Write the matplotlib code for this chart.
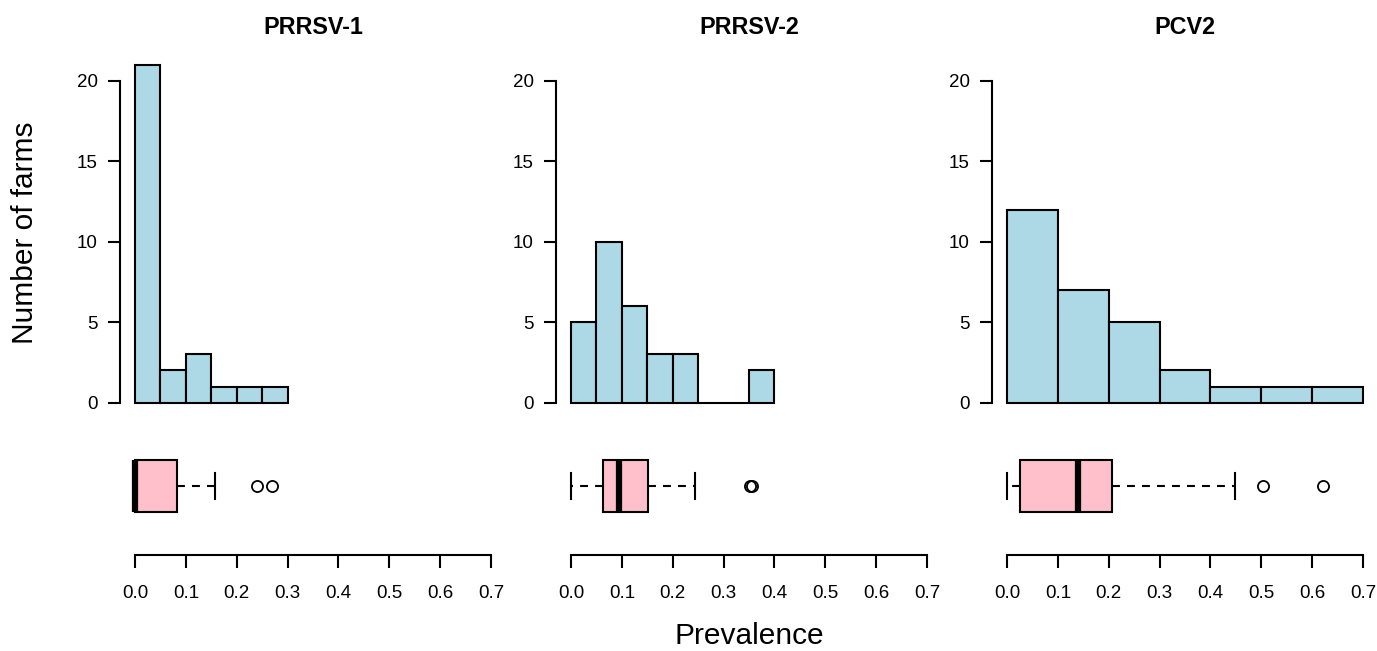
import numpy as np
import matplotlib
matplotlib.use('Agg')
import matplotlib.pyplot as plt

plt.rcParams['font.family'] = ['Liberation Sans', 'DejaVu Sans']

# Histogram counts
titles = ['PRRSV-1', 'PRRSV-2', 'PCV2']
bin_widths = [0.05, 0.05, 0.1]
prrsv1_counts = [21, 2, 3, 1, 1, 1]
prrsv2_counts = [5, 10, 6, 3, 3, 0, 0, 2]
pcv2_counts = [12, 7, 5, 2, 1, 1, 1]
all_counts = [prrsv1_counts, prrsv2_counts, pcv2_counts]

# Boxplot summaries (prevalence)
box_q1 = [0.0, 0.062, 0.026]
box_med = [0.0, 0.094, 0.139]
box_q3 = [0.083, 0.151, 0.207]
whisk_lo = [0.0, 0.0, 0.0]
whisk_hi = [0.158, 0.244, 0.448]
outliers = [[0.239, 0.269], [0.351, 0.355], [0.503, 0.622]]

x_ticks = [0.0, 0.1, 0.2, 0.3, 0.4, 0.5, 0.6, 0.7]
y_ticks = [0, 5, 10, 15, 20]

W, H = 1377, 651
fig = plt.figure(figsize=(W / 100, H / 100), dpi=100)


def px_axes(left, top, right, bottom):
    return fig.add_axes([left / W, 1 - bottom / H, (right - left) / W, (bottom - top) / H])


scale = 508.6  # pixels per prevalence unit
xlim = (-15 / scale, 371 / scale)

for i in range(3):
    z = 135 + 436 * i

    # histogram
    ax = px_axes(z - 15, 51.1, z + 371, 416.2)
    counts = all_counts[i]
    edges = np.arange(len(counts) + 1) * bin_widths[i]
    ax.bar(edges[:-1], counts, width=bin_widths[i], align='edge',
           color='#ADD8E6', edgecolor='black', linewidth=1.5)
    ax.set_xlim(xlim)
    ax.set_ylim(-0.84, 21.84)
    for s in ['top', 'right', 'bottom']:
        ax.spines[s].set_visible(False)
    ax.spines['left'].set_bounds(0, 20)
    ax.spines['left'].set_linewidth(1.5)
    ax.set_xticks([])
    ax.set_yticks(y_ticks)
    ax.tick_params(axis='y', length=8.6, width=1.5, pad=7.5, labelsize=13.5)

    # boxplot + shared prevalence axis
    bx = px_axes(z - 15, 430, z + 371, 555)
    stats = [{'q1': box_q1[i], 'med': box_med[i], 'q3': box_q3[i],
              'whislo': whisk_lo[i], 'whishi': whisk_hi[i], 'fliers': outliers[i]}]
    bx.bxp(stats, positions=[0.5544], widths=0.4136, capwidths=0.208,
           orientation='horizontal', patch_artist=True, showfliers=True,
           boxprops=dict(facecolor='#FFC0CB', edgecolor='black', linewidth=1.5),
           medianprops=dict(color='black', linewidth=4.5, solid_capstyle='butt'),
           whiskerprops=dict(color='black', linewidth=1.5, linestyle=(0, (3.8, 3.4))),
           capprops=dict(color='black', linewidth=1.5),
           flierprops=dict(marker='o', markerfacecolor='none', markeredgecolor='black',
                           markersize=8, markeredgewidth=1.3))
    bx.set_xlim(xlim)
    bx.set_ylim(0, 1)
    for s in ['top', 'right', 'left']:
        bx.spines[s].set_visible(False)
    bx.spines['bottom'].set_bounds(0, 0.7)
    bx.spines['bottom'].set_linewidth(1.5)
    bx.set_yticks([])
    bx.set_xticks(x_ticks)
    bx.set_xticklabels(['%.1f' % t for t in x_ticks])
    bx.tick_params(axis='x', length=9.4, width=1.5, pad=12, labelsize=13.5)

    fig.text((z + 178) / W, 1 - 27 / H, titles[i], ha='center', va='center',
             fontsize=16.8, fontweight='bold')

fig.text(25 / W, 1 - 233 / H, 'Number of farms', rotation=90,
         ha='center', va='center', fontsize=21.5)
fig.text(749 / W, 1 - 644 / H, 'Prevalence', ha='center', va='baseline', fontsize=21.5)

fig.savefig('out.png', dpi=100)
